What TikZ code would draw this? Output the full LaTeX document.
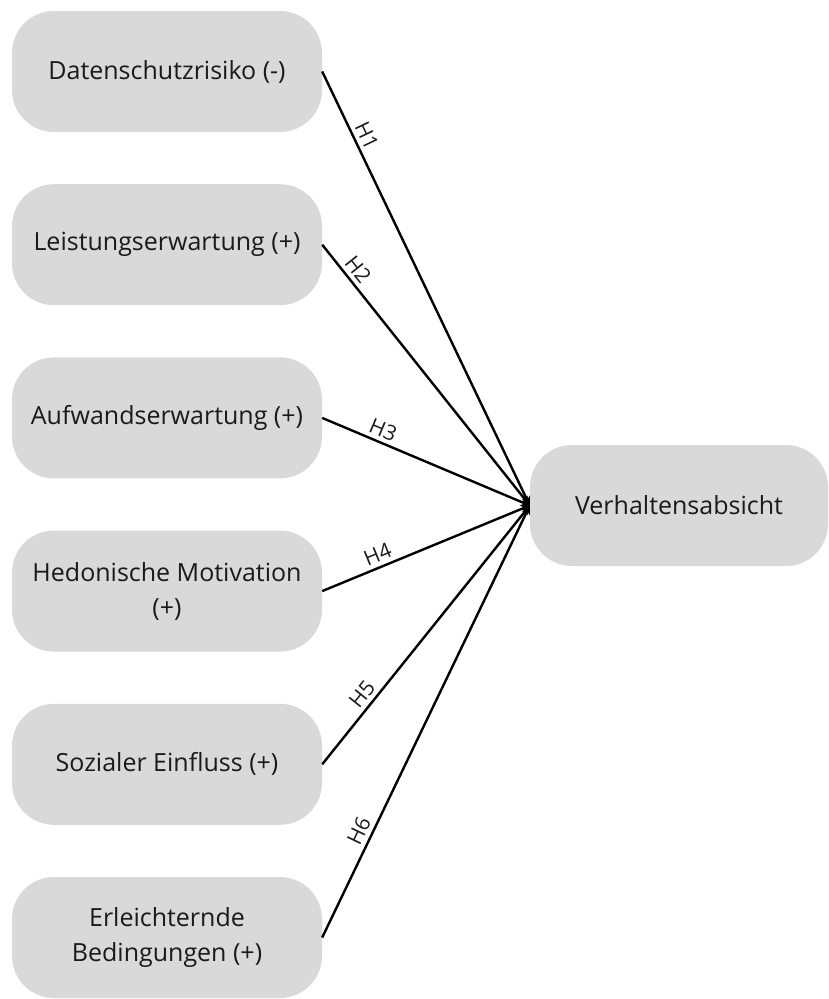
\documentclass[tikz,border=0pt]{standalone}
\usepackage{fontspec}
\setmainfont{Open Sans}
\usetikzlibrary{arrows.meta}
\definecolor{boxgray}{HTML}{D9D9D9}
\definecolor{txt}{HTML}{1A1A1A}
\begin{document}
\begin{tikzpicture}[x=1pt,y=-1pt,
  ibox/.style={draw=none,fill=boxgray,rounded corners=42pt,minimum width=310pt,minimum height=121pt,
    inner sep=0pt,align=center,text=txt,font=\fontsize{25}{35}\selectfont},
  obox/.style={ibox,minimum width=298pt},
  conn/.style={line width=2.4pt,-{Stealth[length=9pt,width=9pt]}},
  hlab/.style={sloped,above,font=\fontsize{21}{23}\selectfont,text=txt,inner sep=4pt}]
\useasboundingbox (0,0) rectangle (829,999);
\node[ibox] (d) at (167,71.5) {Datenschutzrisiko (-)};
\node[ibox] (l) at (167,244.7) {Leistungserwartung (+)};
\node[ibox] (a) at (167,417.9) {Aufwandserwartung (+)};
\node[ibox] (h) at (167,591.1) {Hedonische Motivation\\(+)};
\node[ibox] (s) at (167,764.3) {Sozialer Einfluss (+)};
\node[ibox] (e) at (167,937.5) {Erleichternde\\Bedingungen (+)};
\node[obox] (v) at (679,505.5) {Verhaltensabsicht};
\draw[conn] (d.east) -- node[hlab,pos=0.16] {H1} (v.west);
\draw[conn] (l.east) -- node[hlab,pos=0.125] {H2} (v.west);
\draw[conn] (a.east) -- node[hlab,pos=0.27] {H3} (v.west);
\draw[conn] (h.east) -- node[hlab,pos=0.29] {H4} (v.west);
\draw[conn] (s.east) -- node[hlab,pos=0.24] {H5} (v.west);
\draw[conn] (e.east) -- node[hlab,pos=0.233] {H6} (v.west);
\end{tikzpicture}
\end{document}
